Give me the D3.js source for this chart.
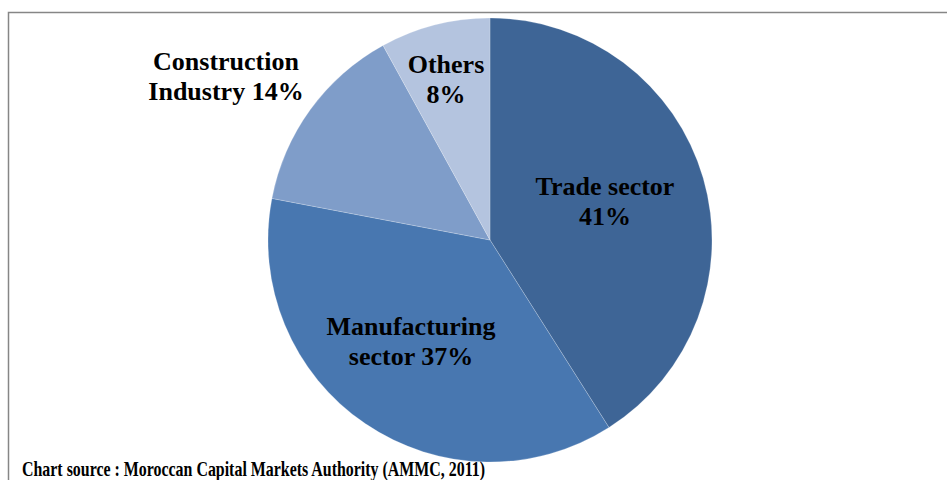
<!DOCTYPE html>
<html>
<head>
<meta charset="utf-8">
<script src="https://cdn.jsdelivr.net/npm/d3@7"></script>
<style>
  html, body { margin: 0; padding: 0; background: #fff; }
  svg { display: block; }
</style>
</head>
<body>
<div id="chart"></div>
<script>
// sector shares, clockwise from 12 o'clock
var sectors = ['Trade sector', 'Manufacturing sector', 'Construction Industry', 'Others'];
var shares = [41, 37, 14, 8];
var colors = ['#3e6596', '#4877b0', '#7f9dc9', '#b4c4df'];
// label lines, as they break in the picture
var labelLines = [
  ['Trade sector', '41%'],
  ['Manufacturing', 'sector 37%'],
  ['Construction', 'Industry 14%'],
  ['Others', '8%']
];

var width = 947, height = 480;
var cx = 490, cy = 240, radius = 222;
var serif = "'Times New Roman', 'Liberation Serif', Times, 'DejaVu Serif', serif";

var svg = d3.select('#chart').append('svg')
  .attr('width', width)
  .attr('height', height);

// frame (right and bottom edges fall outside the crop)
svg.append('path')
  .attr('d', 'M8.5,' + (height + 2) + 'V12.5H' + (width + 2))
  .attr('fill', 'none')
  .attr('stroke', '#868686')
  .attr('stroke-width', 1.5);

var data = sectors.map(function(s, i) {
  return { name: s, value: shares[i], color: colors[i], lines: labelLines[i] };
});

var pie = d3.pie().sort(null).value(function(d) { return d.value; });
var arc = d3.arc().innerRadius(0).outerRadius(radius);

var g = svg.append('g').attr('transform', 'translate(' + cx + ',' + cy + ')');

g.selectAll('path.slice')
    .data(pie(data))
  .enter().append('path')
    .attr('class', 'slice')
    .attr('d', arc)
    .attr('fill', function(d) { return d.data.color; })
    .attr('stroke', '#ffffff')
    .attr('stroke-opacity', 0.35)
    .attr('stroke-width', 0.6);

// label centres (first baseline)
var labelPos = [[605, 195], [411, 335], [226, 70], [446, 73]];

data.forEach(function(d, i) {
  var t = svg.append('text')
    .attr('font-family', serif)
    .attr('font-weight', 'bold')
    .attr('font-size', 26)
    .attr('fill', '#000')
    .attr('text-anchor', 'middle')
    .attr('x', labelPos[i][0])
    .attr('y', labelPos[i][1]);
  d.lines.forEach(function(line, j) {
    t.append('tspan')
      .attr('x', labelPos[i][0])
      .attr('dy', j === 0 ? 0 : 30)
      .text(line);
  });
});

svg.append('text')
  .attr('font-family', serif)
  .attr('font-weight', 'bold')
  .attr('font-size', 21)
  .attr('fill', '#000')
  .attr('x', 22)
  .attr('y', 476)
  .attr('textLength', 463)
  .attr('lengthAdjust', 'spacingAndGlyphs')
  .text('Chart source : Moroccan Capital Markets Authority (AMMC, 2011)');
</script>
</body>
</html>
